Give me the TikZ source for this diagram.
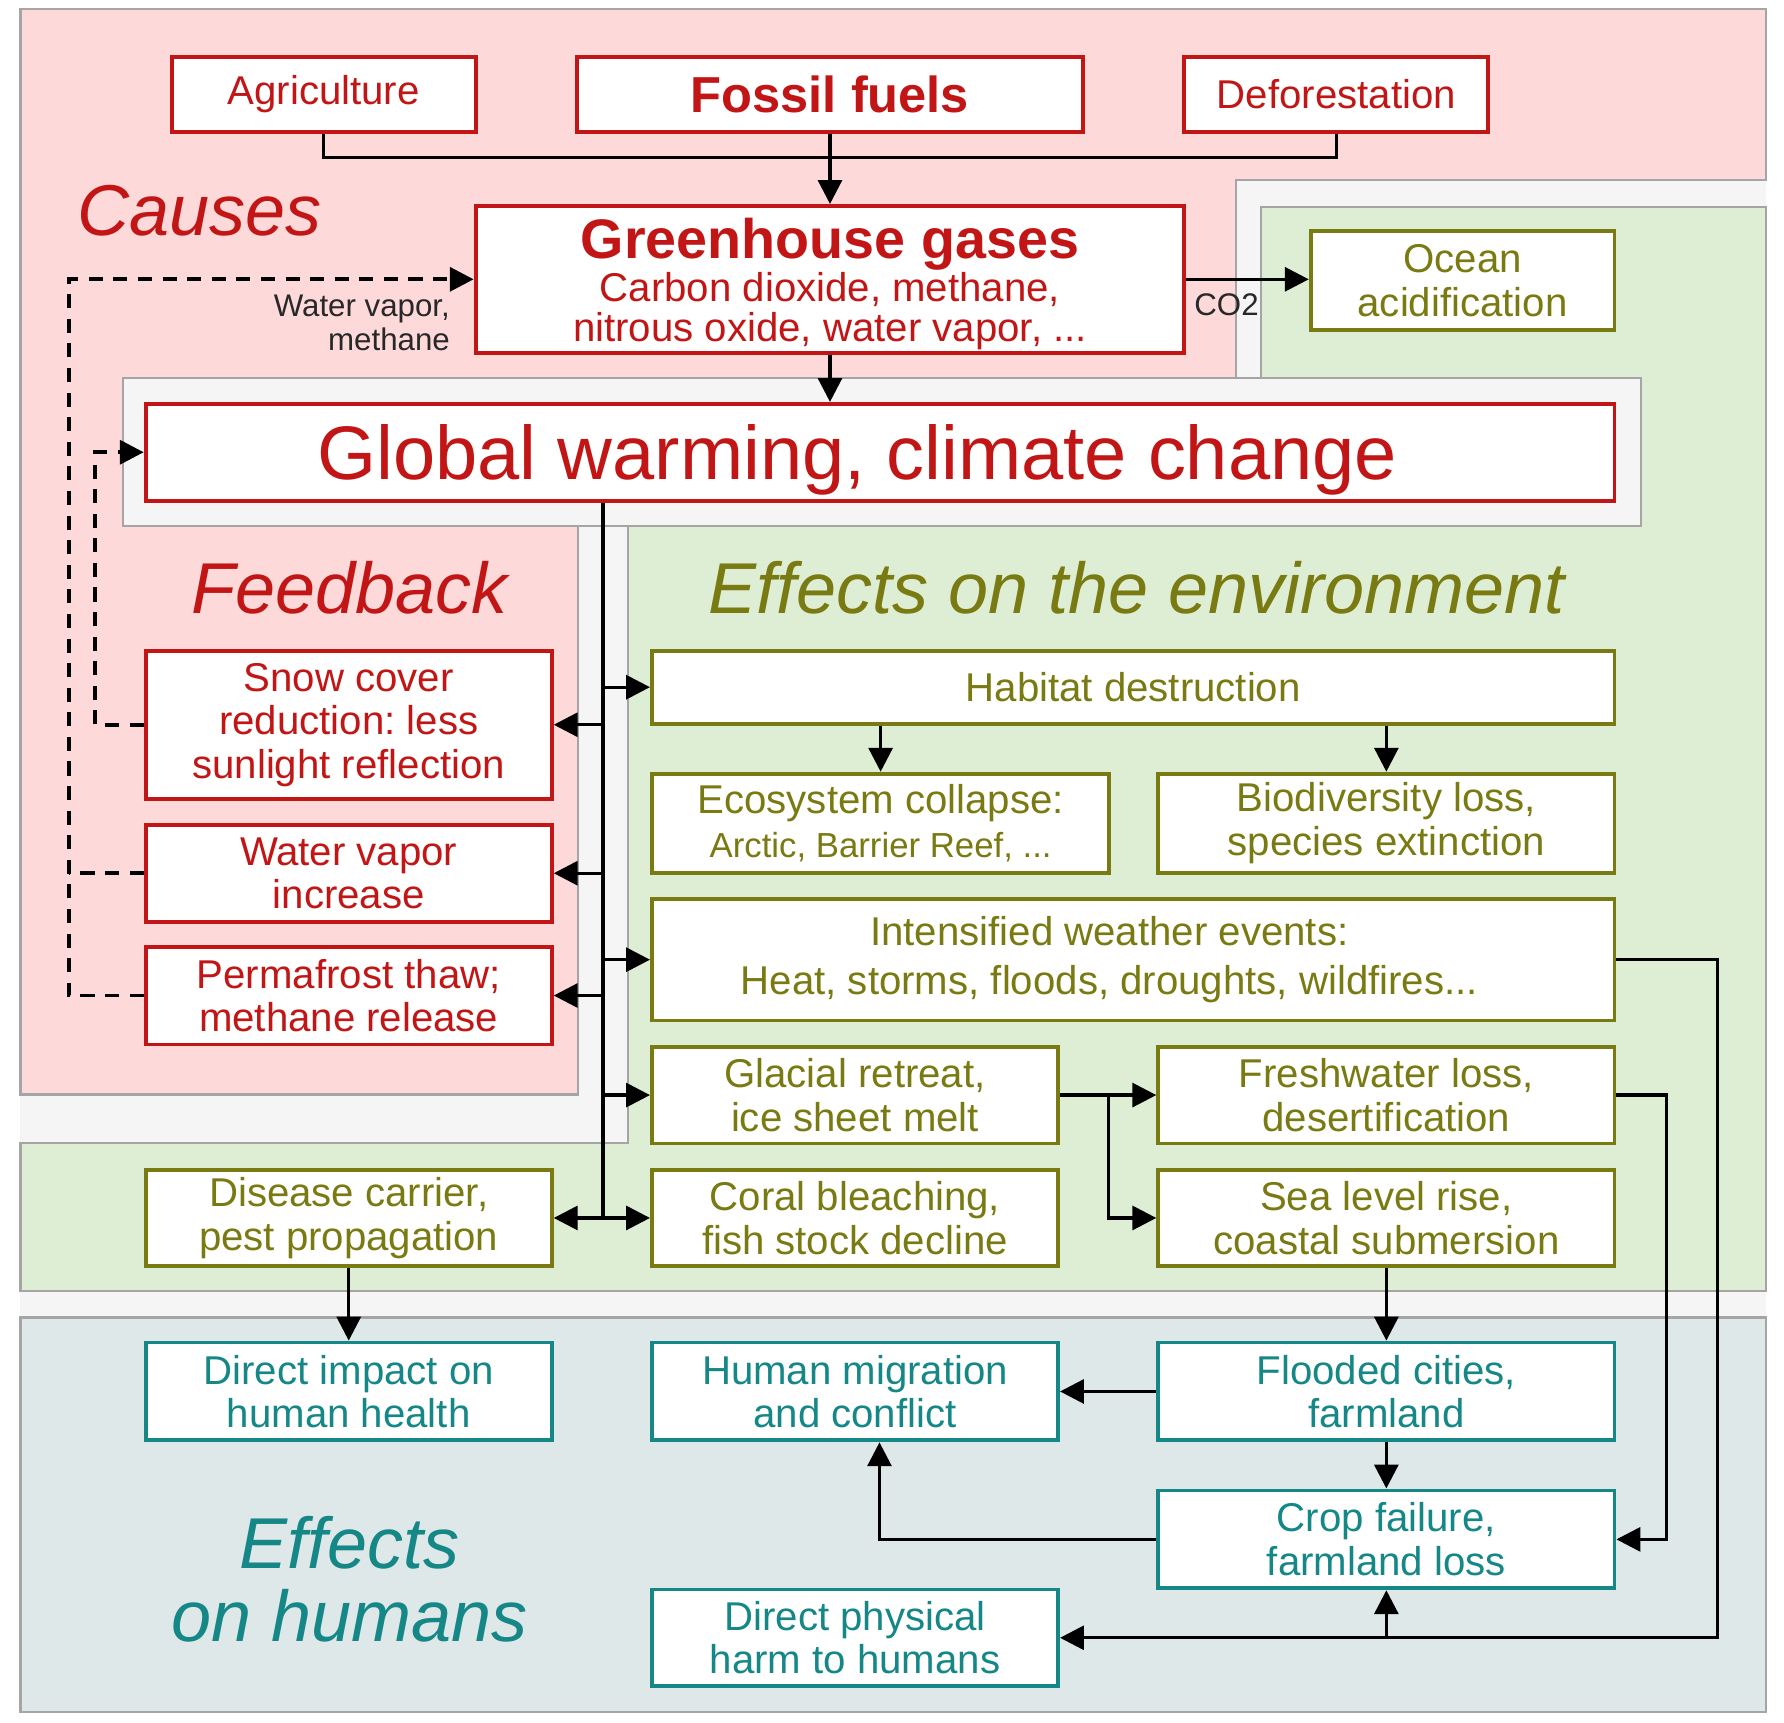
\documentclass[tikz,border=0pt]{standalone}
\usepackage{fontspec}
\setmainfont{Liberation Sans}
\usetikzlibrary{arrows.meta,calc}
\frenchspacing
\definecolor{cred}{RGB}{194,22,22}
\definecolor{colive}{RGB}{122,122,18}
\definecolor{cteal}{RGB}{22,135,135}
\definecolor{fpink}{RGB}{253,217,218}
\definecolor{fgreen}{RGB}{221,238,212}
\definecolor{fhum}{RGB}{222,232,232}
\definecolor{fgray}{RGB}{245,245,245}
\definecolor{bgray}{RGB}{165,165,165}
\definecolor{ltext}{RGB}{40,40,40}
\def\pxu{0.011378cm}
\begin{document}
\begin{tikzpicture}[x=0.011378cm, y=-0.011378cm,
  box/.style={draw, fill=white, line width=1.1pt, inner sep=0pt, align=center, font=\fontsize{11.44}{12.4}\selectfont\frenchspacing},
  rbox/.style={box, draw=cred, text=cred},
  gbox/.style={box, draw=colive, text=colive},
  tbox/.style={box, draw=cteal, text=cteal},
  sz/.style 2 args={minimum width=#1*\pxu, minimum height=#2*\pxu},
  panel/.style={draw=bgray, line width=0.6pt},
  conn/.style={draw=black, line width=0.95pt},
  arr/.style={conn, -{Triangle[length=6.8pt,width=6.8pt]}},
  dashline/.style={conn, line width=1.1pt, dash pattern=on 4pt off 3pt},
  darr/.style={arr, line width=1.1pt, dash pattern=on 4pt off 3pt},
  biglab/.style={font=\fontsize{20.5}{21}\selectfont\itshape, align=center, inner sep=0pt},
  smalllab/.style={font=\fontsize{8.9}{9.7}\selectfont, text=ltext, inner sep=0pt}
]
\useasboundingbox (0,0) rectangle (1568,1514);
\fill[white] (0,0) rectangle (1568,1514);
% panels
\fill[fgray] (18,8) rectangle (1552,1505);
\draw[panel, fill=fpink] (18,8) -- (1552,8) -- (1552,158) -- (1086,158) -- (1086,332) -- (108,332) -- (108,462) -- (508,462) -- (508,962) -- (18,962) -- cycle;
\draw[panel, fill=fgreen] (1108,182) -- (1552,182) -- (1552,1135) -- (18,1135) -- (18,1005) -- (552,1005) -- (552,462) -- (1442,462) -- (1442,332) -- (1108,332) -- cycle;
\draw[panel, fill=fgray] (108,332) rectangle (1442,462);
\draw[panel, fill=fhum] (18,1158) rectangle (1552,1505);

% region labels
\node[biglab, text=cred] (causes) at (175,185) {Causes};
\node[biglab, text=cred] (feedback) at (307,517) {Feedback};
\node[biglab, text=colive] (envlab) at (999,517) {Effects on the environment};
\node[biglab, text=cteal] (humlab) at (307,1388) {Effects\\on humans};

% causes
\node[rbox, sz={267}{66}] (agri) at (284.5,83) {Agriculture};
\node[rbox, sz={445}{66}, font=\fontsize{14.4}{16}\selectfont\bfseries] (fossil) at (729.5,83) {Fossil fuels};
\node[rbox, sz={267}{66}] (defor) at (1174.5,83) {Deforestation};
\node[rbox, sz={623}{129}, font=\fontsize{11.44}{11.4}\selectfont] (ghg) at (729.5,245.5) {\rule{0pt}{14pt}{\fontsize{15.85}{16}\selectfont\bfseries Greenhouse gases}\\[-0.3pt]Carbon dioxide, methane,\\nitrous oxide, water vapor, ...};
\node[gbox, sz={267}{87}] (ocean) at (1285.5,246.5) {Ocean\\acidification};
\node[rbox, sz={1291}{85}, font=\fontsize{21.6}{24}\selectfont] (gw) at (773.5,397.5) {\rule{0pt}{20pt}Global warming, climate change\rule{0.455cm}{0pt}};

% feedback
\node[rbox, sz={357}{130}] (snow) at (306.5,637) {Snow cover\\reduction: less\\sunlight reflection};
\node[rbox, sz={357}{85}] (wvap) at (306.5,767.5) {Water vapor\\increase};
\node[rbox, sz={357}{86}] (perma) at (306.5,875) {Permafrost thaw;\\methane release};

% environment
\node[gbox, sz={846}{64}] (habitat) at (996,604) {Habitat destruction};
\node[gbox, sz={402}{87}] (eco) at (774,723.5) {Ecosystem collapse:\\{\fontsize{9.9}{12}\selectfont Arctic, Barrier Reef, ...}};
\node[gbox, sz={401}{87}] (bio) at (1218.5,723.5) {Biodiversity loss,\\species extinction};
\node[gbox, sz={846}{107}, font=\fontsize{11.44}{14}\selectfont] (weather) at (996,843.5) {Intensified weather events:\rule{0.478cm}{0pt}\\Heat, storms, floods, droughts, wildfires...\rule{0.478cm}{0pt}};
\node[gbox, sz={357}{85}] (glacial) at (751.5,962.5) {Glacial retreat,\\ice sheet melt};
\node[gbox, sz={401}{85}] (fresh) at (1218.5,962.5) {Freshwater loss,\\desertification};
\node[gbox, sz={357}{85}] (disease) at (306.5,1070.5) {Disease carrier,\\pest propagation};
\node[gbox, sz={357}{85}] (coral) at (751.5,1070.5) {Coral bleaching,\\fish stock decline};
\node[gbox, sz={401}{85}] (sea) at (1218.5,1070.5) {Sea level rise,\\coastal submersion};

% humans
\node[tbox, sz={357}{86}] (health) at (306.5,1223) {Direct impact on\\human health};
\node[tbox, sz={357}{86}] (migr) at (751.5,1223) {Human migration\\and conflict};
\node[tbox, sz={401}{86}] (flood) at (1218.5,1223) {Flooded cities,\\farmland};
\node[tbox, sz={401}{86}] (crop) at (1218.5,1353) {Crop failure,\\farmland loss};
\node[tbox, sz={357}{85}] (harm) at (751.5,1439.5) {Direct physical\\harm to humans};

% small labels
\node[smalllab, align=right, anchor=east] (wvlab) at (396,284) {Water vapor,\\methane};
\node[smalllab] (co2) at (1078,268) {CO2};

% connectors: causes
\draw[conn] (agri.south) -- ++(0,21) -| (defor.south);
\draw[arr] (fossil.south) -- (ghg.north);
\draw[arr] (ghg.south) -- (ghg.south |- gw.north);
\draw[arr] (ghg.east) -- (ghg.east -| ocean.west);

% feedback dashed
\draw[darr] (snow.west) -- ++(-43,0) |- (gw.west);
\draw[dashline] (wvap.west) -- ++(-66,0);
\draw[darr] (perma.west) -- ++(-66,0) |- (ghg.west);

% trunk
\coordinate (tk) at (530,1070.5);
\draw[conn] (gw.south -| tk) -- (tk);
\draw[arr] (tk |- snow.east) -- (snow.east);
\draw[arr] (tk |- wvap.east) -- (wvap.east);
\draw[arr] (tk |- perma.east) -- (perma.east);
\draw[arr] (tk) -- (disease.east);
\draw[arr] (tk |- habitat.west) -- (habitat.west);
\draw[arr] (tk |- weather.west) -- (weather.west);
\draw[arr] (tk |- glacial.west) -- (glacial.west);
\draw[arr] (tk) -- (coral.west);

% environment
\draw[arr] (eco.north |- habitat.south) -- (eco.north);
\draw[arr] (bio.north |- habitat.south) -- (bio.north);
\draw[arr] (glacial.east) -- (fresh.west);
\coordinate (gb) at ($(glacial.east)!0.5!(fresh.west)$);
\draw[arr] (gb) |- (sea.west);
\draw[arr] (weather.east) -- ++(89,0) |- (harm.east);
\draw[arr] (crop.south |- harm.east) -- (crop.south);
\draw[arr] (fresh.east) -- ++(44,0) |- (crop.east);
\draw[arr] (sea.south) -- (flood.north);
\draw[arr] (disease.south) -- (health.north);

% humans
\draw[arr] (flood.west) -- (migr.east);
\draw[arr] (flood.south) -- (crop.north);
\draw[arr] (crop.west) -| ($(migr.south)+(21.5,0)$);
\end{tikzpicture}
\end{document}
